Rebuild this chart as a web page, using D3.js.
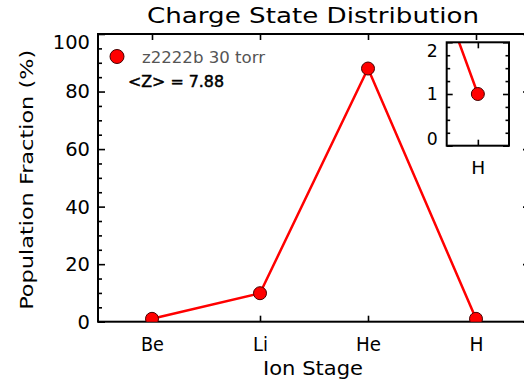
<!DOCTYPE html>
<html>
<head>
<meta charset="utf-8">
<script src="https://cdn.jsdelivr.net/npm/d3@7"></script>
<style>
  body { margin: 0; background: #fff; }
  svg { display: block; font-family: "DejaVu Sans", sans-serif; }
  .axis path { display: none; }
  .axis line { stroke: #000; stroke-width: 1.6; }
  .axis text { fill: #000; font-family: "DejaVu Sans", sans-serif; }
</style>
</head>
<body>
<svg id="chart"></svg>
<script>
// data
const stages = ["Be", "Li", "He", "H"];
const fraction = [1.0, 9.9, 88.0, 1.0];
const yTicks = [0, 20, 40, 60, 80, 100];
const yMinor = [5, 10, 15, 25, 30, 35, 45, 50, 55, 65, 70, 75, 85, 90, 95];
const insetTicks = [0, 1, 2];
const insetMinor = [0.25, 0.5, 0.75, 1.25, 1.5, 1.75];
const seriesName = "z2222b 30 torr";
const meanZ = "<Z> = 7.88";

const W = 524, H = 383;
const plot = { left: 98, right: 530, top: 34, bottom: 321.7 };
const inset = { left: 446.7, right: 509, top: 42.3, bottom: 145.7 };
const red = "#ff0000";

const points = stages.map((s, i) => ({ stage: s, i: i, v: fraction[i] }));

const svg = d3.select("#chart").attr("width", W).attr("height", H);

const defs = svg.append("defs");
defs.append("clipPath").attr("id", "clip-main").append("rect")
  .attr("x", plot.left).attr("y", plot.top)
  .attr("width", plot.right - plot.left).attr("height", plot.bottom - plot.top);
defs.append("clipPath").attr("id", "clip-inset").append("rect")
  .attr("x", inset.left).attr("y", inset.top)
  .attr("width", inset.right - inset.left).attr("height", inset.bottom - inset.top);

// main scales
const x = d3.scalePoint().domain(stages).range([plot.left, plot.right]).padding(0.5);
const y = d3.scaleLinear().domain([0, 100]).range([plot.bottom, plot.top]);

// the IDL font is wider than DejaVu, so stretch labels a bit
const labelWidth = { Be: 23, Li: 15, He: 25, H: 14 };

// title
svg.append("text")
  .attr("x", 313).attr("y", 23)
  .attr("text-anchor", "middle")
  .attr("font-size", 22)
  .attr("textLength", 332).attr("lengthAdjust", "spacingAndGlyphs")
  .text("Charge State Distribution");

// axes (ticks point inwards like IDL)
const xBottom = svg.append("g").attr("class", "axis")
  .attr("transform", `translate(0,${plot.bottom})`)
  .call(d3.axisBottom(x).tickSizeInner(-6).tickSizeOuter(0).tickPadding(16));
xBottom.selectAll("text").attr("font-size", 19)
  .attr("textLength", d => labelWidth[d]).attr("lengthAdjust", "spacingAndGlyphs");

svg.append("g").attr("class", "axis")
  .attr("transform", `translate(0,${plot.top})`)
  .call(d3.axisTop(x).tickSizeInner(-6).tickSizeOuter(0).tickFormat(""));

const yLeft = svg.append("g").attr("class", "axis")
  .attr("transform", `translate(${plot.left},0)`)
  .call(d3.axisLeft(y).tickValues(yTicks).tickSizeInner(-7).tickSizeOuter(0).tickPadding(8));
yLeft.selectAll("text").attr("font-size", 20)
  .attr("textLength", d => String(d).length * 12.4).attr("lengthAdjust", "spacingAndGlyphs");
yLeft.selectAll(".tick").filter(d => d === 100).select("text").attr("dy", "0.72em");

svg.append("g").attr("class", "axis")
  .attr("transform", `translate(${plot.left},0)`)
  .call(d3.axisLeft(y).tickValues(yMinor).tickSizeInner(-4).tickSizeOuter(0).tickFormat(""));

svg.append("g").attr("class", "axis")
  .attr("transform", `translate(${plot.right},0)`)
  .call(d3.axisRight(y).tickValues(yTicks).tickSizeInner(-7).tickSizeOuter(0).tickFormat(""));
svg.append("g").attr("class", "axis")
  .attr("transform", `translate(${plot.right},0)`)
  .call(d3.axisRight(y).tickValues(yMinor).tickSizeInner(-4).tickSizeOuter(0).tickFormat(""));

svg.append("rect")
  .attr("x", plot.left).attr("y", plot.top)
  .attr("width", plot.right - plot.left).attr("height", plot.bottom - plot.top)
  .attr("fill", "none").attr("stroke", "#000").attr("stroke-width", 2);

// axis titles
svg.append("text")
  .attr("x", 313).attr("y", 375)
  .attr("text-anchor", "middle")
  .attr("font-size", 20)
  .attr("textLength", 100).attr("lengthAdjust", "spacingAndGlyphs")
  .text("Ion Stage");

svg.append("text")
  .attr("transform", `translate(33,${(plot.top + plot.bottom) / 2 + 2}) rotate(-90)`)
  .attr("text-anchor", "middle")
  .attr("font-size", 17)
  .attr("textLength", 260).attr("lengthAdjust", "spacingAndGlyphs")
  .text("Population Fraction (%)");

// series
const line = d3.line().x(d => x(d.stage)).y(d => y(d.v));
const main = svg.append("g").attr("clip-path", "url(#clip-main)");
main.append("path")
  .datum(points)
  .attr("d", line)
  .attr("fill", "none")
  .attr("stroke", red)
  .attr("stroke-width", 2.5);
main.selectAll("circle")
  .data(points)
  .join("circle")
  .attr("cx", d => x(d.stage))
  .attr("cy", d => y(d.v))
  .attr("r", 6.5)
  .attr("fill", red)
  .attr("stroke", "#400")
  .attr("stroke-width", 1);

// legend
svg.append("circle")
  .attr("cx", 117).attr("cy", 56.5).attr("r", 7)
  .attr("fill", red).attr("stroke", "#400").attr("stroke-width", 1);
svg.append("text")
  .attr("x", 142).attr("y", 62.5)
  .attr("font-size", 16)
  .attr("fill", "#555")
  .attr("textLength", 123).attr("lengthAdjust", "spacingAndGlyphs")
  .text(seriesName);
svg.append("text")
  .attr("x", 128).attr("y", 87)
  .attr("font-size", 16)
  .attr("stroke", "#000").attr("stroke-width", 0.5)
  .attr("textLength", 96).attr("lengthAdjust", "spacingAndGlyphs")
  .text(meanZ);

// inset zoom on the last stage
const hIdx = stages.length - 1;
const ix = d3.scaleLinear().domain([hIdx - 0.019, hIdx + 0.019]).range([inset.left, inset.right]);
const iy = d3.scaleLinear().domain([0, 2]).range([inset.bottom, inset.top]);

svg.append("rect")
  .attr("x", inset.left).attr("y", inset.top)
  .attr("width", inset.right - inset.left).attr("height", inset.bottom - inset.top)
  .attr("fill", "#fff");

const ixAxis = svg.append("g").attr("class", "axis")
  .attr("transform", `translate(0,${inset.bottom})`)
  .call(d3.axisBottom(ix).tickValues([hIdx]).tickFormat(i => stages[i])
    .tickSizeInner(-6).tickSizeOuter(0).tickPadding(16));
ixAxis.selectAll("text").attr("font-size", 18)
  .attr("textLength", 14).attr("lengthAdjust", "spacingAndGlyphs");

svg.append("g").attr("class", "axis")
  .attr("transform", `translate(0,${inset.top})`)
  .call(d3.axisTop(ix).tickValues([hIdx]).tickFormat("").tickSizeInner(-6).tickSizeOuter(0));

const iyLeft = svg.append("g").attr("class", "axis")
  .attr("transform", `translate(${inset.left},0)`)
  .call(d3.axisLeft(iy).tickValues(insetTicks).tickFormat(d3.format("d"))
    .tickSizeInner(-6).tickSizeOuter(0).tickPadding(9));
iyLeft.selectAll("text").attr("font-size", 17)
  .attr("textLength", 11).attr("lengthAdjust", "spacingAndGlyphs");
iyLeft.selectAll(".tick").filter(d => d === 2).select("text").attr("dy", "0.85em");
iyLeft.selectAll(".tick").filter(d => d === 0).select("text").attr("dy", "-0.05em");

svg.append("g").attr("class", "axis")
  .attr("transform", `translate(${inset.left},0)`)
  .call(d3.axisLeft(iy).tickValues(insetMinor).tickFormat("").tickSizeInner(-3.5).tickSizeOuter(0));
svg.append("g").attr("class", "axis")
  .attr("transform", `translate(${inset.right},0)`)
  .call(d3.axisRight(iy).tickValues(insetTicks).tickFormat("").tickSizeInner(-6).tickSizeOuter(0));
svg.append("g").attr("class", "axis")
  .attr("transform", `translate(${inset.right},0)`)
  .call(d3.axisRight(iy).tickValues(insetMinor).tickFormat("").tickSizeInner(-3.5).tickSizeOuter(0));

const insetLine = d3.line().x(d => ix(d.i)).y(d => iy(d.v));
const ig = svg.append("g").attr("clip-path", "url(#clip-inset)");
ig.append("path")
  .datum(points)
  .attr("d", insetLine)
  .attr("fill", "none")
  .attr("stroke", red)
  .attr("stroke-width", 2.5);
ig.selectAll("circle")
  .data(points.filter(d => d.i === hIdx))
  .join("circle")
  .attr("cx", d => ix(d.i))
  .attr("cy", d => iy(d.v))
  .attr("r", 6.5)
  .attr("fill", red)
  .attr("stroke", "#400")
  .attr("stroke-width", 1);

svg.append("rect")
  .attr("x", inset.left).attr("y", inset.top)
  .attr("width", inset.right - inset.left).attr("height", inset.bottom - inset.top)
  .attr("fill", "none").attr("stroke", "#000").attr("stroke-width", 2);
</script>
</body>
</html>
